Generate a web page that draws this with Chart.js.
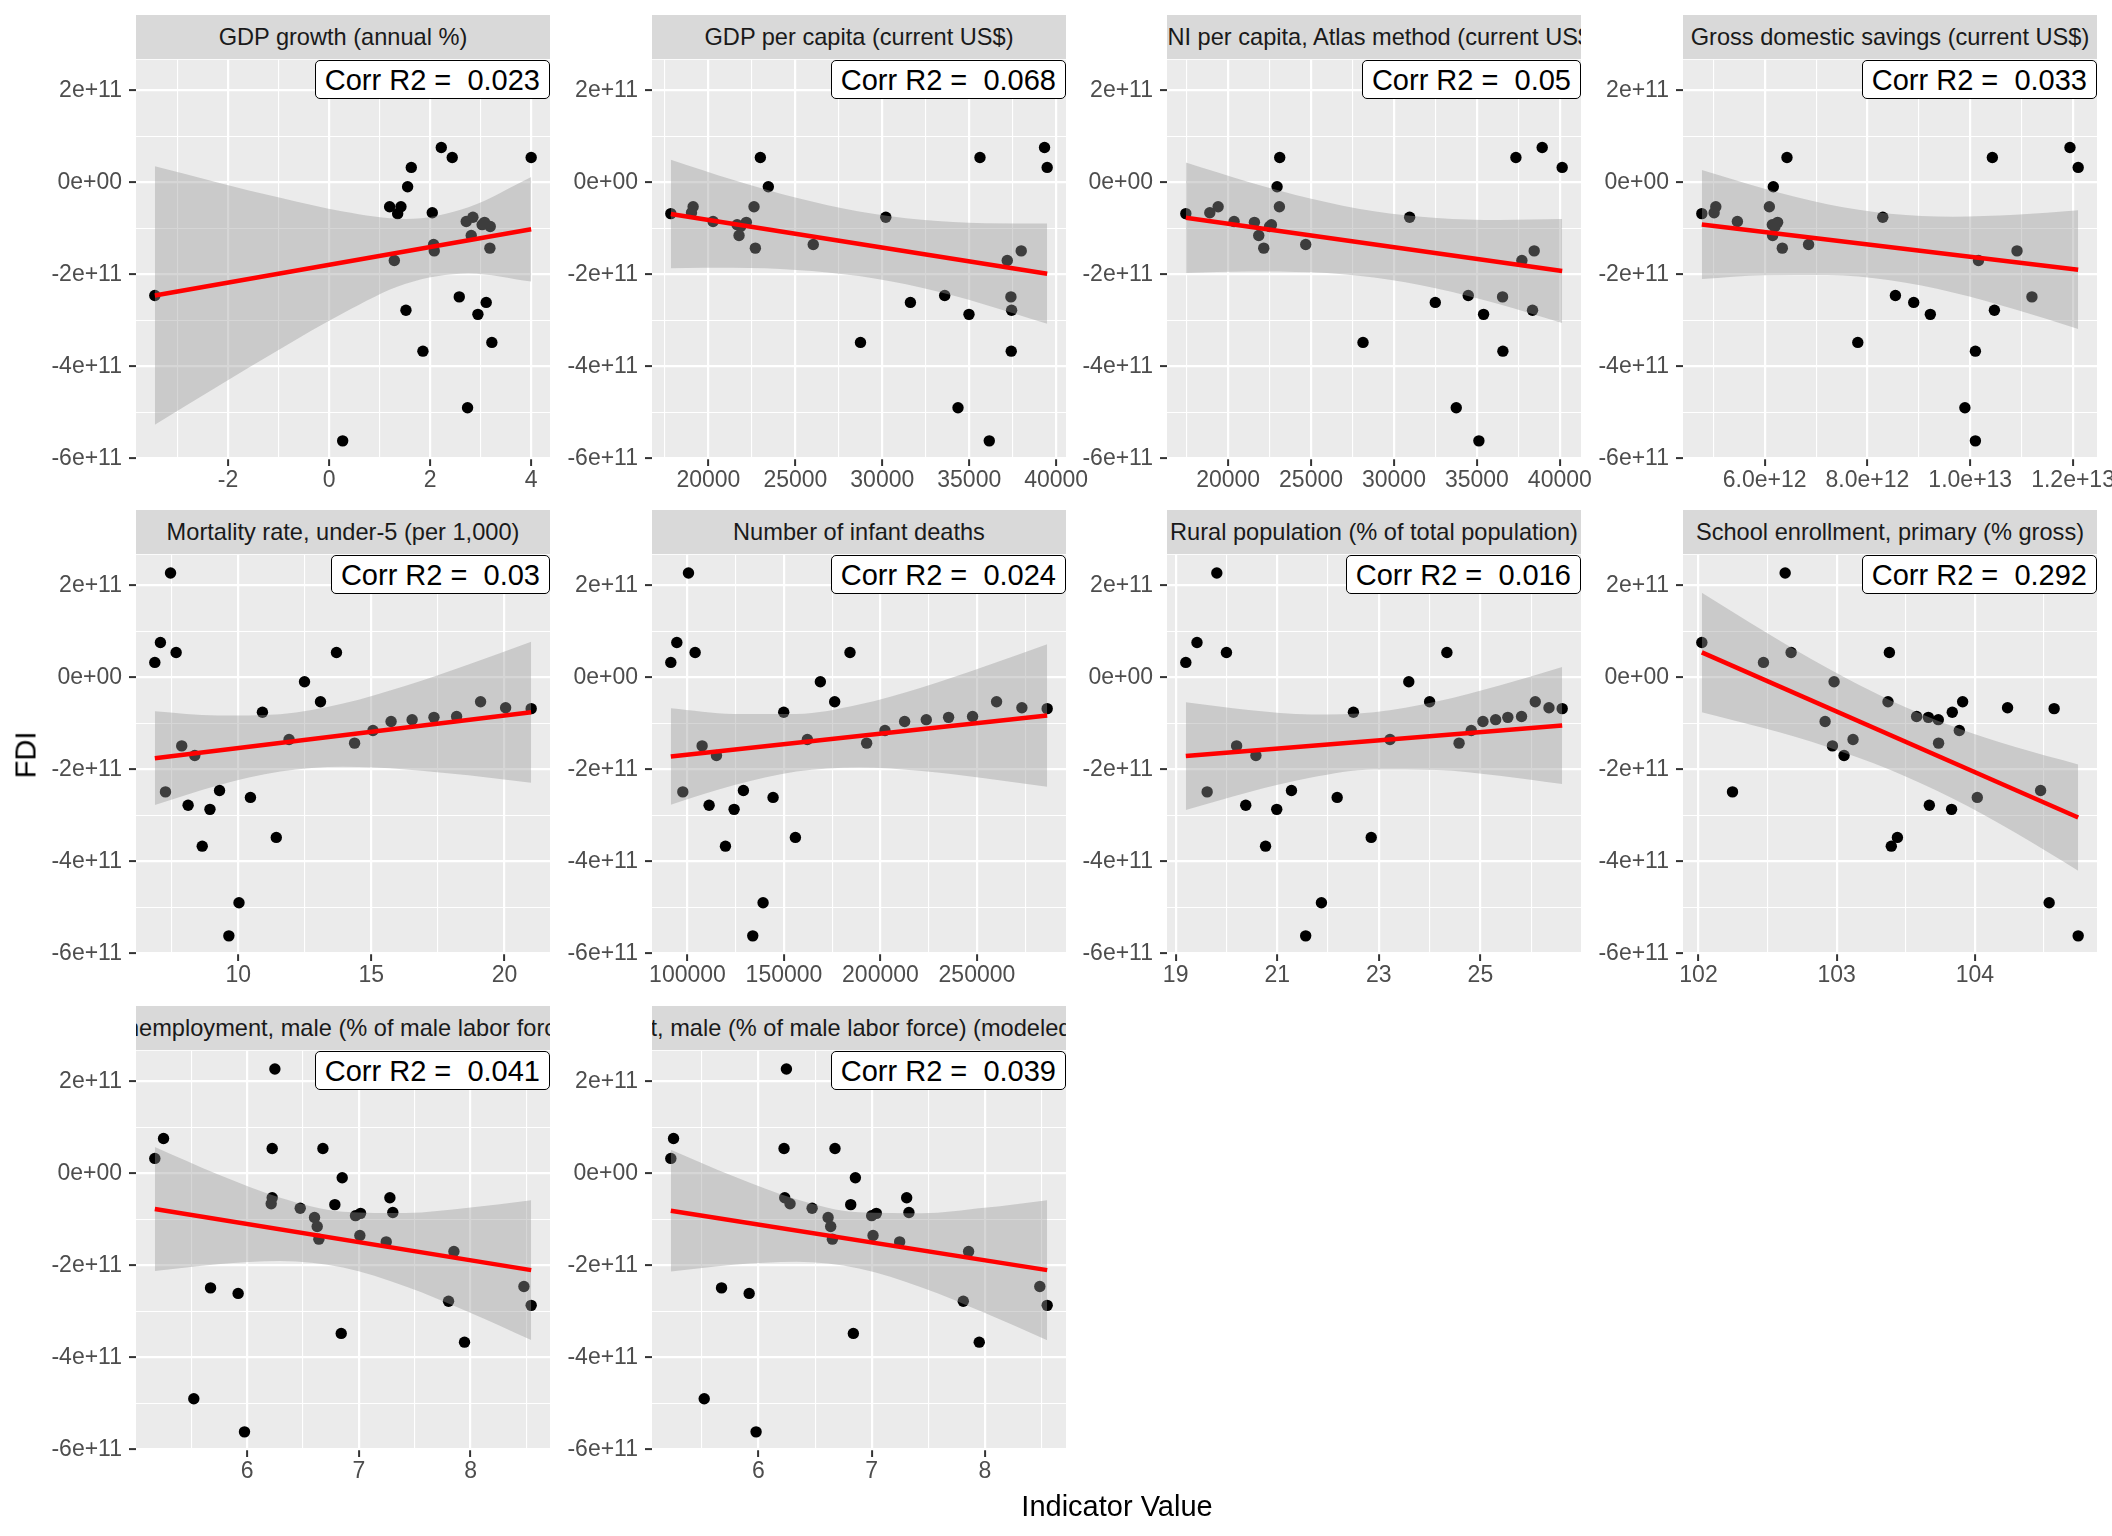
<!DOCTYPE html>
<html>
<head>
<meta charset="utf-8">
<script src="https://cdn.jsdelivr.net/npm/chart.js@4.4.1/dist/chart.umd.min.js"></script>
<style>
  html, body { margin: 0; padding: 0; background: #fff; }
  #page { position: relative; width: 2112px; height: 1536px; overflow: hidden;
          font-family: "Liberation Sans", Arial, Helvetica, sans-serif; }
  canvas { position: absolute; }
  .strip { position: absolute; background: #D9D9D9; color: #1A1A1A; font-size: 23.6px;
           display: flex; justify-content: center; align-items: center;
           overflow: hidden; white-space: nowrap; }
  .r2 { position: absolute; z-index: 5; background: #fff; border: 1.5px solid #000;
        border-radius: 5px; font-size: 29px; color: #000; white-space: pre;
        padding: 0 9px; height: 37px; line-height: 38px; }
  .axtitle { position: absolute; font-size: 29px; color: #000; white-space: nowrap;
             line-height: 1; transform: translate(-50%, -50%); }
</style>
</head>
<body>
<div id="page"></div>
<script>
// FDI, one value per year (same for every panel)
const fdi = [-0.68e11, -0.66e11, -0.53e11, -0.85e11, -0.87e11, -0.92e11, -0.96e11, -1.155e11, -1.43e11, 0.54e11,
             -0.53e11, -0.094e11, -1.35e11, -3.48e11, -0.76e11, -2.61e11, -4.90e11, -5.62e11, -2.46e11, -2.87e11,
             -3.67e11, -1.70e11, -2.78e11, -1.49e11, 0.54e11, 2.27e11, -2.49e11, 0.758e11, 0.325e11];

// indicator values, aligned with fdi (null = missing)
const gdpGrowth = [1.358, 2.043, 1.199, 2.715, 3.077, 3.03, 3.19, 2.814, 3.183, 2.438, 1.423, 1.555, 2.069, 3.222, 2.847,
                   3.110, 2.741, 0.270, -3.447, 2.946, 1.858, 1.292, 1.522, 2.082, 4.0, null, 2.577, 2.221, 1.628];
const gdpPerCapita = [17837, 19025, 19120, 20268, 22180, 21650, 21850, 21760, 22699, 22986, 22622, 23445, 26029, 28746, 30201,
                      31617, 34354, 36153, 33589, 34986, 37416, 37187, 37436, 37990, 35617, null, 37397, 39330, 39483];
const gniPerCapita = [17450, 18896, 19398, 20361, 21586, 22610, 22500, 21847, 22149, 23112, 23092, 22952, 24679, 28133, 30944,
                      32490, 33755, 35120, 34478, 35402, 36566, 37711, 38353, 38454, 37351, null, 36546, 38936, 40141];
const grossSavings = [4.777e12, 5.016e12, 5.049e12, 5.469e12, 6.252e12, 6.149e12, 6.2e12, 6.155e12, 6.343e12, 6.434e12,
                      6.091e12, 6.168e12, 6.854e12, 7.812e12, 8.298e12, 8.9e12, 9.896e12, 10.1e12, 8.544e12, 9.223e12,
                      10.1e12, 10.16e12, 10.47e12, 10.91e12, 10.43e12, null, 11.2e12, 11.94e12, 12.1e12];
const mortalityU5 = [21.00, 20.04, 19.10, 18.20, 17.35, 16.53, 15.74, 15.06, 14.37, 13.69, 13.09, 12.49, 11.91, 11.43, 10.91,
                     10.46, 10.03, 9.65, 9.30, 8.94, 8.65, 8.37, 8.12, 7.88, 7.67, 7.46, 7.27, 7.08, 6.87];
const infantDeaths = [286400, 273290, 260170, 247740, 235310, 223750, 212530, 202350, 192850, 184220, 176280, 168860, 162130,
                      155920, 149880, 144360, 139180, 133830, 128990, 124160, 119680, 115020, 111220, 107590, 103970, 100520,
                      97580, 94480, 91370];
const ruralPop = [26.61, 26.35, 26.08, 25.81, 25.54, 25.30, 25.05, 24.82, 24.58, 24.34, 24.00, 23.59, 23.22, 22.85, 22.50,
                  22.18, 21.87, 21.56, 21.28, 20.99, 20.77, 20.58, 20.38, 20.20, 20.00, 19.81, 19.62, 19.42, 19.20];
const schoolEnroll = [104.573, 104.236, 103.911, 103.578, 103.663, 103.735, 102.916, 103.887, 103.737, 103.381, 103.371,
                      102.981, 103.118, 103.439, 103.836, 104.017, 104.537, 104.747, 104.475, 103.831, 103.395, 103.053,
                      103.670, 102.969, 102.670, 102.627, 102.246, 102.024, 102.470];
const unempMale = [6.785, 6.215, 7.278, 7.304, 7.015, 6.970, 6.603, 6.627, 6.642, 6.224, 6.224, 6.851, 7.009, 6.842, 6.475,
                   5.919, 5.522, 5.976, 8.478, 8.543, 7.946, 7.851, 7.803, 7.245, 6.678, 6.248, 5.672, 5.251, 5.173];
const unempMaleIlo = [6.815, 6.279, 7.309, 7.329, 7.041, 7.0, 6.615, 6.638, 6.653, 6.226, 6.232, 6.856, 7.012, 6.838, 6.474,
                      5.918, 5.521, 5.979, 8.485, 8.55, 7.95, 7.856, 7.809, 7.247, 6.676, 6.247, 5.674, 5.25, 5.226];

const panelTitles = [
  'GDP growth (annual %)',
  'GDP per capita (current US$)',
  'GNI per capita, Atlas method (current US$)',
  'Gross domestic savings (current US$)',
  'Mortality rate, under-5 (per 1,000)',
  'Number of infant deaths',
  'Rural population (% of total population)',
  'School enrollment, primary (% gross)',
  'Unemployment, male (% of male labor force)',
  'Unemployment, male (% of male labor force) (modeled ILO estimate)'
];
const corrR2 = ['0.023', '0.068', '0.05', '0.033', '0.03', '0.024', '0.016', '0.292', '0.041', '0.039'];

// tick marks
const fdiTicks = [-6e11, -4e11, -2e11, 0, 2e11];
const fdiTickLabels = ['-6e+11', '-4e+11', '-2e+11', '0e+00', '2e+11'];
const xTicks = [
  [-2, 0, 2, 4],
  [20000, 25000, 30000, 35000, 40000],
  [20000, 25000, 30000, 35000, 40000],
  [6e12, 8e12, 1e13, 1.2e13],
  [10, 15, 20],
  [100000, 150000, 200000, 250000],
  [19, 21, 23, 25],
  [102, 103, 104],
  [6, 7, 8],
  [6, 7, 8]
];
const xTickLabels = [
  ['-2', '0', '2', '4'],
  ['20000', '25000', '30000', '35000', '40000'],
  ['20000', '25000', '30000', '35000', '40000'],
  ['6.0e+12', '8.0e+12', '1.0e+13', '1.2e+13'],
  ['10', '15', '20'],
  ['100000', '150000', '200000', '250000'],
  ['19', '21', '23', '25'],
  ['102', '103', '104'],
  ['6', '7', '8'],
  ['6', '7', '8']
];

// linear fit (start x, start y, end x, end y)
const fitLines = [
  [-3.447, -2.46e11, 4.0, -1.02e11],
  [17837, -0.686e11, 39483, -1.986e11],
  [17450, -0.77e11, 40141, -1.927e11],
  [4.777e12, -0.915e11, 12.1e12, -1.899e11],
  [6.87, -1.757e11, 21.0, -0.758e11],
  [91370, -1.72e11, 286400, -0.83e11],
  [19.20, -1.712e11, 26.61, -1.047e11],
  [102.024, 0.542e11, 104.747, -3.047e11],
  [5.173, -0.774e11, 8.543, -2.104e11],
  [5.226, -0.811e11, 8.55, -2.104e11]
];

// confidence band edges
const bandX = [
  [-3.447, -2.206, -0.965, 0.276, 1.517, 2.759, 4.0],
  [17837, 21445, 25053, 28660, 32268, 35875, 39483],
  [17450, 21232, 25014, 28796, 32577, 36359, 40141],
  [4.777e12, 5.998e12, 7.218e12, 8.439e12, 9.659e12, 10.88e12, 12.1e12],
  [6.87, 9.225, 11.58, 13.935, 16.29, 18.645, 21.0],
  [91370, 123875, 156380, 188885, 221390, 253895, 286400],
  [19.20, 20.435, 21.67, 22.905, 24.14, 25.375, 26.61],
  [102.024, 102.478, 102.932, 103.385, 103.839, 104.293, 104.747],
  [5.173, 5.735, 6.296, 6.858, 7.420, 7.981, 8.543],
  [5.226, 5.780, 6.334, 6.888, 7.442, 7.996, 8.55]
];
const bandUpper = [
  [0.35e11, -0.001e11, -0.337e11, -0.634e11, -0.795e11, -0.539e11, 0.117e11],
  [0.494e11, 0.053e11, -0.334e11, -0.634e11, -0.813e11, -0.887e11, -0.896e11],
  [0.43e11, 0.010e11, -0.356e11, -0.628e11, -0.775e11, -0.818e11, -0.797e11],
  [0.270e11, -0.138e11, -0.474e11, -0.684e11, -0.748e11, -0.706e11, -0.609e11],
  [-0.739e11, -0.831e11, -0.800e11, -0.569e11, -0.181e11, 0.282e11, 0.776e11],
  [-0.673e11, -0.795e11, -0.797e11, -0.592e11, -0.218e11, 0.235e11, 0.719e11],
  [-0.539e11, -0.708e11, -0.806e11, -0.758e11, -0.526e11, -0.176e11, 0.227e11],
  [1.842e11, 0.996e11, 0.202e11, -0.496e11, -1.065e11, -1.515e11, -1.892e11],
  [0.573e11, -0.018e11, -0.528e11, -0.832e11, -0.861e11, -0.749e11, -0.585e11],
  [0.514e11, -0.064e11, -0.561e11, -0.847e11, -0.867e11, -0.748e11, -0.582e11]
];
const bandLower = [
  [-5.27e11, -4.439e11, -3.623e11, -2.846e11, -2.205e11, -1.982e11, -2.157e11],
  [-1.866e11, -1.859e11, -1.904e11, -2.038e11, -2.293e11, -2.653e11, -3.076e11],
  [-1.97e11, -1.936e11, -1.956e11, -2.070e11, -2.307e11, -2.650e11, -3.057e11],
  [-2.100e11, -2.020e11, -2.012e11, -2.130e11, -2.394e11, -2.764e11, -3.189e11],
  [-2.775e11, -2.349e11, -2.048e11, -1.945e11, -2.001e11, -2.130e11, -2.292e11],
  [-2.767e11, -2.347e11, -2.049e11, -1.958e11, -2.036e11, -2.191e11, -2.379e11],
  [-2.885e11, -2.496e11, -2.177e11, -2.002e11, -2.012e11, -2.140e11, -2.321e11],
  [-0.758e11, -1.108e11, -1.512e11, -2.008e11, -2.635e11, -3.381e11, -4.202e11],
  [-2.121e11, -1.974e11, -1.906e11, -2.047e11, -2.461e11, -3.015e11, -3.623e11],
  [-2.136e11, -1.988e11, -1.923e11, -2.067e11, -2.479e11, -3.028e11, -3.626e11]
];

const indicators = [gdpGrowth, gdpPerCapita, gniPerCapita, grossSavings, mortalityU5,
                    infantDeaths, ruralPop, schoolEnroll, unempMale, unempMaleIlo];

// layout (pixels)
const colLeft = [136, 652, 1167, 1683];
const rowTop = [59, 554, 1050];
const PW = 414, PH = 400, STRIP = 44;
const AXW = 110, AXH = 60, PADT = 20, PADR = 60;
const FONT = '"Liberation Sans", Arial, Helvetica, sans-serif';

const page = document.getElementById('page');

// ggplot style: expand range by 5%
function expand(vals) {
  const v = vals.filter(d => d !== null);
  const lo = Math.min(...v), hi = Math.max(...v), pad = (hi - lo) * 0.05;
  return [lo - pad, hi + pad];
}

// majors plus a minor line half way between
function withMinors(majors, lo, hi) {
  const step = majors[1] - majors[0];
  const out = majors.slice();
  out.push(majors[0] - step / 2);
  for (let k = 0; k < majors.length; k++) out.push(majors[k] + step / 2);
  return out.filter(v => v >= lo && v <= hi).sort((a, b) => a - b);
}

function findMajor(majors, v) {
  const step = Math.abs(majors[1] - majors[0]);
  return majors.findIndex(m => Math.abs(m - v) < step * 1e-6);
}

const panelBg = {
  id: 'panelBg',
  beforeDraw(chart) {
    const a = chart.chartArea, ctx = chart.ctx;
    ctx.save();
    ctx.fillStyle = '#EBEBEB';
    ctx.fillRect(a.left, a.top, a.right - a.left, a.bottom - a.top);
    ctx.restore();
  }
};

const [yMin, yMax] = expand(fdi);
const yAll = withMinors(fdiTicks, yMin, yMax);

indicators.forEach((xs, i) => {
  const left = colLeft[i % 4], top = rowTop[Math.floor(i / 4)];

  const strip = document.createElement('div');
  strip.className = 'strip';
  strip.style.cssText = `left:${left}px;top:${top - STRIP}px;width:${PW}px;height:${STRIP}px;`;
  const span = document.createElement('span');
  span.textContent = panelTitles[i];
  strip.appendChild(span);
  page.appendChild(strip);

  const cv = document.createElement('canvas');
  cv.width = AXW + PW + PADR;
  cv.height = PADT + PH + AXH;
  cv.style.left = (left - AXW) + 'px';
  cv.style.top = (top - PADT) + 'px';
  page.appendChild(cv);

  const lab = document.createElement('div');
  lab.className = 'r2';
  lab.textContent = 'Corr R2 =  ' + corrR2[i];
  lab.style.right = (2112 - left - PW) + 'px';
  lab.style.top = (top + 1) + 'px';
  page.appendChild(lab);

  const points = [];
  xs.forEach((v, k) => { if (v !== null) points.push({ x: v, y: fdi[k] }); });
  const [xMin, xMax] = expand(xs);
  const majors = xTicks[i];
  const xAll = withMinors(majors, xMin, xMax);
  const f = fitLines[i];

  new Chart(cv, {
    type: 'scatter',
    data: {
      datasets: [
        {
          type: 'line', label: 'fit',
          data: [{ x: f[0], y: f[1] }, { x: f[2], y: f[3] }],
          borderColor: '#FF0000', borderWidth: 4.5, pointRadius: 0, fill: false, order: 0
        },
        {
          type: 'line', label: 'upper',
          data: bandX[i].map((x, k) => ({ x: x, y: bandUpper[i][k] })),
          borderColor: 'rgba(0,0,0,0)', borderWidth: 0, pointRadius: 0,
          cubicInterpolationMode: 'monotone',
          fill: '+1', backgroundColor: 'rgba(153,153,153,0.4)', order: 1
        },
        {
          type: 'line', label: 'lower',
          data: bandX[i].map((x, k) => ({ x: x, y: bandLower[i][k] })),
          borderColor: 'rgba(0,0,0,0)', borderWidth: 0, pointRadius: 0,
          cubicInterpolationMode: 'monotone', fill: false, order: 2
        },
        {
          type: 'scatter', label: 'points', data: points,
          pointRadius: 5.7, pointHoverRadius: 5.7, backgroundColor: '#000000',
          borderWidth: 0, order: 3
        }
      ]
    },
    options: {
      responsive: false,
      animation: false,
      events: [],
      layout: { padding: { top: PADT, right: PADR, bottom: 0, left: 0 } },
      plugins: { legend: { display: false }, tooltip: { enabled: false } },
      scales: {
        x: {
          type: 'linear', min: xMin, max: xMax,
          afterBuildTicks: s => { s.ticks = xAll.map(v => ({ value: v })); },
          afterFit: s => { s.height = AXH; },
          border: { display: false },
          grid: {
            color: '#FFFFFF',
            lineWidth: c => (c.tick && findMajor(majors, c.tick.value) >= 0) ? 2.2 : 1.1,
            drawTicks: true, tickLength: 7,
            tickColor: c => (c.tick && findMajor(majors, c.tick.value) >= 0) ? '#333333' : 'rgba(0,0,0,0)',
            tickWidth: 2
          },
          ticks: {
            autoSkip: false, maxRotation: 0, minRotation: 0, padding: 1,
            color: '#4D4D4D', font: { family: FONT, size: 23 },
            callback: v => { const k = findMajor(majors, v); return k >= 0 ? xTickLabels[i][k] : ''; }
          }
        },
        y: {
          type: 'linear', min: yMin, max: yMax,
          afterBuildTicks: s => { s.ticks = yAll.map(v => ({ value: v })); },
          afterFit: s => { s.width = AXW; },
          border: { display: false },
          grid: {
            color: '#FFFFFF',
            lineWidth: c => (c.tick && findMajor(fdiTicks, c.tick.value) >= 0) ? 2.2 : 1.1,
            drawTicks: true, tickLength: 7,
            tickColor: c => (c.tick && findMajor(fdiTicks, c.tick.value) >= 0) ? '#333333' : 'rgba(0,0,0,0)',
            tickWidth: 2
          },
          ticks: {
            autoSkip: false, padding: 7,
            color: '#4D4D4D', font: { family: FONT, size: 23 },
            callback: v => { const k = findMajor(fdiTicks, v); return k >= 0 ? fdiTickLabels[k] : ''; }
          }
        }
      }
    },
    plugins: [panelBg]
  });
});

// axis titles
const yTitle = document.createElement('div');
yTitle.className = 'axtitle';
yTitle.textContent = 'FDI';
yTitle.style.left = '26px';
yTitle.style.top = '755px';
yTitle.style.transform = 'translate(-50%, -50%) rotate(-90deg)';
page.appendChild(yTitle);

const xTitle = document.createElement('div');
xTitle.className = 'axtitle';
xTitle.textContent = 'Indicator Value';
xTitle.style.left = '1117px';
xTitle.style.top = '1506px';
page.appendChild(xTitle);
</script>
</body>
</html>
